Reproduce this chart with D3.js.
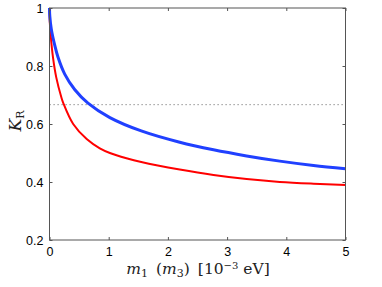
<!DOCTYPE html>
<head>
<meta charset="utf-8">
<style>
body { margin: 0; background: #fff; }
.tick text { font-family: "Liberation Sans", Arial, sans-serif; font-size: 12.5px; fill: #000; }
.axis path { display: none; }
.axis line { stroke: #555; }
.title { font-family: "DejaVu Serif", "Liberation Serif", serif; fill: #222; }
</style>
</head>
<body>
<script src="https://d3js.org/d3.v7.min.js"></script>
<script>
// values
var blueM = [0, 0.005, 0.03, 0.088, 0.144, 0.257, 0.425, 0.65, 1.02, 1.55, 2.2, 2.77, 3.33, 3.89, 4.46, 5];
var blueK = [1, 0.972, 0.928, 0.872, 0.830, 0.772, 0.719, 0.672, 0.622, 0.576, 0.537, 0.511, 0.490, 0.472, 0.457, 0.446];
var redM = [0, 0.005, 0.02, 0.06, 0.115, 0.2, 0.233, 0.4, 0.628, 0.85, 1.02, 1.3, 1.55, 2.2, 2.77, 3.33, 3.89, 4.46, 5];
var redK = [1, 0.952, 0.906, 0.828, 0.760, 0.692, 0.672, 0.600, 0.548, 0.516, 0.500, 0.482, 0.469, 0.443, 0.424, 0.410, 0.400, 0.394, 0.390];
var refLevel = 2 / 3;
var xTicks = [0, 1, 2, 3, 4, 5];
var yTicks = [0.2, 0.4, 0.6, 0.8, 1];
var yTickLabels = ["0.2", "0.4", "0.6", "0.8", "1"];

var width = 382, height = 287;
var margin = {top: 8, right: 36.5, bottom: 47, left: 49.5};

var svg = d3.select("body").append("svg")
    .attr("width", width)
    .attr("height", height);

var x = d3.scaleLinear().domain([0, 5]).range([margin.left, width - margin.right]);
var y = d3.scaleLinear().domain([0.2, 1]).range([height - margin.bottom, margin.top]);

// reference line
svg.append("line")
    .attr("x1", x(0)).attr("x2", x(5))
    .attr("y1", y(refLevel)).attr("y2", y(refLevel))
    .attr("stroke", "#777")
    .attr("stroke-width", 1)
    .attr("stroke-dasharray", "1.2,2.8");

var line = d3.line()
    .x(function(d) { return x(d[0]); })
    .y(function(d) { return y(d[1]); })
    .curve(d3.curveCatmullRom.alpha(0.5));

svg.append("path")
    .datum(redM.map(function(m, i) { return [m, redK[i]]; }))
    .attr("d", line)
    .attr("fill", "none")
    .attr("stroke", "#ff0000")
    .attr("stroke-width", 2);

svg.append("path")
    .datum(blueM.map(function(m, i) { return [m, blueK[i]]; }))
    .attr("d", line)
    .attr("fill", "none")
    .attr("stroke", "#2040ff")
    .attr("stroke-width", 3);

// axes, ticks pointing inward
svg.append("g").attr("class", "axis")
    .attr("transform", "translate(0," + y(0.2) + ")")
    .call(d3.axisBottom(x).tickValues(xTicks).tickSize(-3).tickPadding(7).tickFormat(d3.format("d")));
svg.append("g").attr("class", "axis")
    .attr("transform", "translate(0," + y(1) + ")")
    .call(d3.axisTop(x).tickValues(xTicks).tickSize(-3).tickFormat(""));
svg.append("g").attr("class", "axis")
    .attr("transform", "translate(" + x(0) + ",0)")
    .call(d3.axisLeft(y).tickValues(yTicks).tickSize(-3).tickPadding(6)
        .tickFormat(function(d, i) { return yTickLabels[i]; }));
svg.append("g").attr("class", "axis")
    .attr("transform", "translate(" + x(5) + ",0)")
    .call(d3.axisRight(y).tickValues(yTicks).tickSize(-3).tickFormat(""));

svg.append("rect")
    .attr("x", x(0)).attr("y", y(1))
    .attr("width", x(5) - x(0)).attr("height", y(0.2) - y(1))
    .attr("fill", "none")
    .attr("stroke", "#555")
    .attr("stroke-width", 1);

// x title
var xt = svg.append("text").attr("class", "title")
    .attr("x", 198)
    .attr("y", 274)
    .attr("text-anchor", "middle")
    .style("font-size", "15.5px");
xt.append("tspan").style("font-style", "italic").text("m");
xt.append("tspan").attr("dy", 3).style("font-size", "11px").text("1");
xt.append("tspan").attr("dy", -3).text("\u2009 (");
xt.append("tspan").style("font-style", "italic").text("m");
xt.append("tspan").attr("dy", 3).style("font-size", "11px").text("3");
xt.append("tspan").attr("dy", -3).text(")\u2009 [10");
xt.append("tspan").attr("dy", -5).style("font-size", "10px").text("\u22123");
xt.append("tspan").attr("dy", 5).text(" eV]");

// y title
var yt = svg.append("text").attr("class", "title")
    .attr("transform", "translate(21," + 121 + ") rotate(-90)")
    .attr("text-anchor", "middle")
    .style("font-size", "17px");
yt.append("tspan").style("font-style", "italic").text("K");
yt.append("tspan").attr("dy", 3).style("font-size", "11px").text("R");
</script>
</body>
</html>
